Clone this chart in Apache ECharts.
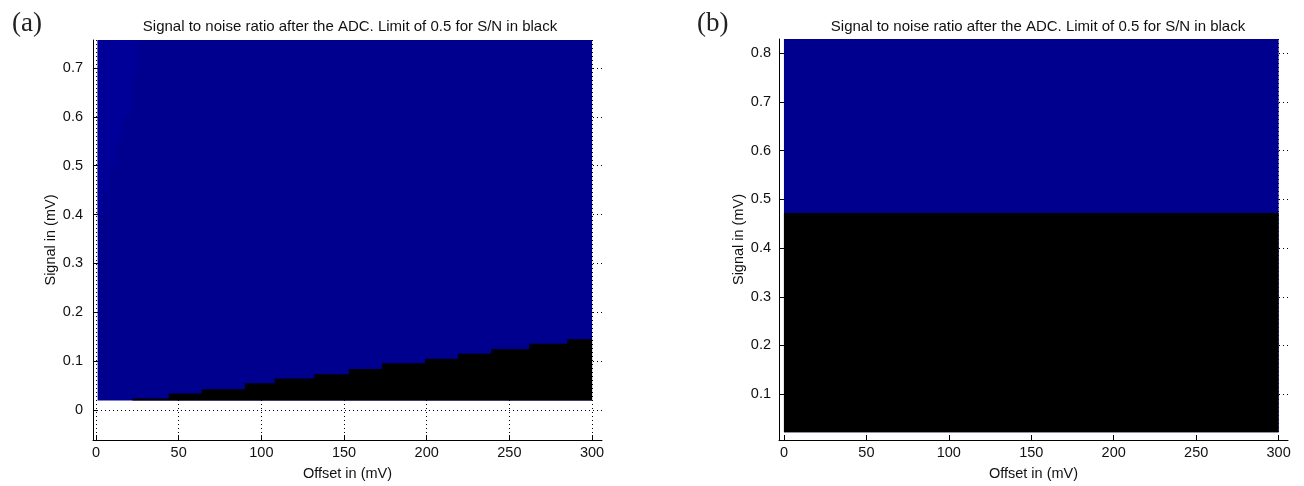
<!DOCTYPE html>
<html><head><meta charset="utf-8">
<script src="https://cdn.jsdelivr.net/npm/echarts@6/dist/echarts.min.js"></script>
<style>html,body{margin:0;padding:0;background:#fff}#c{width:1304px;height:486px}</style>
</head><body><div id="c"></div>
<script>
// ---- tick labels ----
const xTicks = [0, 50, 100, 150, 200, 250, 300];
const yTicksA = [0, 0.1, 0.2, 0.3, 0.4, 0.5, 0.6, 0.7];
const yTicksB = [0.1, 0.2, 0.3, 0.4, 0.5, 0.6, 0.7, 0.8];

// ---- panel (a) data ----
const aOffsetRange = [1, 300];          // offset extent of the image (mV)
const aSignalRange = [0.02, 0.757];     // signal extent of the image (mV)
// S/N < 0.5 boundary (black below), step starts
const aStepOffset = [1, 22, 44, 64, 90, 108, 132, 153, 173, 199, 219, 239, 262, 285, 300];
const aStepSignal = [0.02, 0.024, 0.034, 0.043, 0.055, 0.065, 0.0735, 0.084, 0.096, 0.105, 0.1155, 0.1245, 0.136, 0.145, 0.145];
// slightly higher S/N wedge near zero offset
const aLightSignal = [0.757, 0.68, 0.60, 0.55, 0.50, 0.45, 0.40];
const aLightOffset = [25, 21, 16, 12, 8, 4];

// ---- panel (b) data ----
const bOffsetRange = [0, 300];
const bSignalRange = [0.022, 0.829];
const bLimitSignal = 0.472;

const BLUE = '#00008F', BLUE2 = '#000098', BLACK = '#000000';
const FONT = 'Liberation Sans, Arial, sans-serif';

function rect(xr, yr) {
  return [[xr[0], yr[0]], [xr[1], yr[0]], [xr[1], yr[1]], [xr[0], yr[1]]];
}
function stairX(xs, ys, base) {
  const pts = [[xs[0], base]];
  for (let i = 0; i < xs.length - 1; i++) { pts.push([xs[i], ys[i]], [xs[i + 1], ys[i]]); }
  pts.push([xs[xs.length - 1], base]);
  return pts;
}
function stairY(levels, widths, x0) {
  const pts = [[x0, levels[0]]];
  for (let i = 0; i < widths.length; i++) { pts.push([widths[i], levels[i]], [widths[i], levels[i + 1]]); }
  pts.push([x0, levels[levels.length - 1]]);
  return pts;
}
function polySeries(idx, pts, color, z) {
  return {
    type: 'custom', xAxisIndex: idx, yAxisIndex: idx, z: z, silent: true,
    data: [pts[0]],
    encode: { x: 0, y: 1 },
    renderItem: function (params, api) {
      return { type: 'polygon', shape: { points: pts.map(p => api.coord(p)) }, style: { fill: color } };
    }
  };
}

const axisText = { color: '#111', fontSize: 14.5, fontFamily: FONT };
const nameText = { color: '#111', fontSize: 14.5, fontFamily: FONT };
function xAx(grid, min, max) {
  return {
    type: 'value', gridIndex: grid, min: min, max: max,
    name: 'Offset in (mV)', nameLocation: 'middle', nameGap: 26,
    nameTextStyle: nameText,
    axisLine: { onZero: false, lineStyle: { color: '#000', width: 1 } },
    axisTick: { inside: true, length: 5, customValues: xTicks, lineStyle: { color: '#000' } },
    axisLabel: Object.assign({ customValues: xTicks, margin: 5 }, axisText),
    splitLine: { show: true, lineStyle: { color: '#000', type: [1, 3], width: 1 } }
  };
}
function yAx(grid, min, max, ticks, margin) {
  return {
    type: 'value', gridIndex: grid, min: min, max: max,
    name: 'Signal in (mV)', nameLocation: 'middle', nameGap: 33,
    nameTextStyle: nameText,
    axisLine: { onZero: false, lineStyle: { color: '#000', width: 1 } },
    axisTick: { inside: true, length: 5, customValues: ticks, lineStyle: { color: '#000' } },
    axisLabel: Object.assign({ customValues: ticks, margin: margin }, axisText),
    splitLine: { show: true, lineStyle: { color: '#000', type: [1, 3], width: 1 } }
  };
}

const titleText = 'Signal to noise ratio after the ADC. Limit of 0.5 for S/N in black';
const titleStyle = { fontSize: 15, fontWeight: 'normal', color: '#111', fontFamily: FONT };
const labStyle = { fontSize: 27, fontWeight: 'normal', color: '#222', fontFamily: 'Liberation Serif, serif' };
const option = {
  animation: false,
  backgroundColor: '#fff',
  title: [
    { text: titleText, left: 345, top: 14, textAlign: 'center', textStyle: titleStyle },
    { text: titleText, left: 1033, top: 14, textAlign: 'center', textStyle: titleStyle },
    { text: '(a)', left: 7, top: 5, textStyle: labStyle },
    { text: '(b)', left: 692, top: 5, textStyle: labStyle }
  ],
  grid: [
    { left: 93, top: 40, width: 509, height: 401 },
    { left: 779, top: 39, width: 509, height: 402 }
  ],
  xAxis: [xAx(0, -1.8, 306), xAx(1, -3, 305.7)],
  yAxis: [yAx(0, -0.061, 0.757, yTicksA, 10), yAx(1, 0.006, 0.829, yTicksB, 8)],
  series: [
    polySeries(0, rect(aOffsetRange, aSignalRange), BLUE, 3),
    polySeries(0, stairY(aLightSignal, aLightOffset, aOffsetRange[0]), BLUE2, 4),
    polySeries(0, stairX(aStepOffset, aStepSignal, aSignalRange[0]), BLACK, 5),
    polySeries(1, rect(bOffsetRange, bSignalRange), BLUE, 3),
    polySeries(1, rect(bOffsetRange, [bSignalRange[0], bLimitSignal]), BLACK, 4)
  ]
};
echarts.init(document.getElementById('c')).setOption(option);
</script>
</body></html>
